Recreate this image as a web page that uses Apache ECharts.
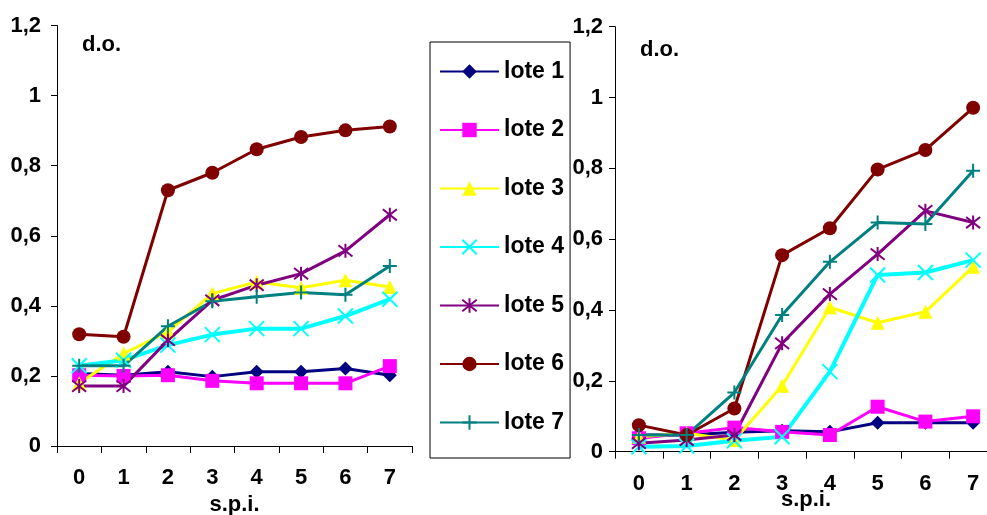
<!DOCTYPE html>
<html>
<head>
<meta charset="utf-8">
<script src="https://cdn.jsdelivr.net/npm/echarts@6/dist/echarts.min.js"></script>
<style>
html,body{margin:0;padding:0;background:#fff;}
#chart{width:987px;height:515px;}
</style>
</head>
<body>
<div id="chart"></div>
<script>
const categories = ['0','1','2','3','4','5','6','7'];
const seriesNames = ['lote 1','lote 2','lote 3','lote 4','lote 5','lote 6','lote 7'];
const yTicks = [0, 0.2, 0.4, 0.6, 0.8, 1, 1.2];

const leftLote1 = [0.207, 0.202, 0.212, 0.198, 0.212, 0.212, 0.221, 0.202];
const leftLote2 = [0.202, 0.200, 0.202, 0.186, 0.179, 0.179, 0.179, 0.228];
const leftLote3 = [0.179, 0.264, 0.326, 0.435, 0.468, 0.452, 0.473, 0.454];
const leftLote4 = [0.229, 0.245, 0.288, 0.318, 0.335, 0.335, 0.371, 0.419];
const leftLote5 = [0.171, 0.171, 0.302, 0.416, 0.459, 0.492, 0.557, 0.660];
const leftLote6 = [0.319, 0.312, 0.730, 0.780, 0.847, 0.882, 0.901, 0.912];
const leftLote7 = [0.229, 0.229, 0.342, 0.413, 0.426, 0.438, 0.432, 0.514];

const rightLote1 = [0.047, 0.047, 0.055, 0.059, 0.056, 0.082, 0.082, 0.082];
const rightLote2 = [0.038, 0.052, 0.068, 0.056, 0.047, 0.127, 0.085, 0.100];
const rightLote3 = [0.042, 0.052, 0.033, 0.186, 0.408, 0.364, 0.395, 0.522];
const rightLote4 = [0.014, 0.016, 0.031, 0.042, 0.226, 0.499, 0.506, 0.541];
const rightLote5 = [0.024, 0.033, 0.047, 0.306, 0.445, 0.558, 0.680, 0.647];
const rightLote6 = [0.075, 0.047, 0.122, 0.555, 0.631, 0.797, 0.852, 0.971];
const rightLote7 = [0.047, 0.047, 0.167, 0.386, 0.536, 0.647, 0.643, 0.793];

const leftData = [leftLote1, leftLote2, leftLote3, leftLote4, leftLote5, leftLote6, leftLote7];
const rightData = [rightLote1, rightLote2, rightLote3, rightLote4, rightLote5, rightLote6, rightLote7];

const colors = ['#000080','#FF00FF','#FFFF00','#00FFFF','#800080','#800000','#008080'];
const symbols = ['diamond','rect','triangle',
  'path://M0,0L10,10M10,0L0,10',
  'path://M0,1L10,9M10,1L0,9M5,0L5,10',
  'circle',
  'path://M5,0L5,10M0,5L10,5'];
const symbolSizes = [14, 14, 14, 15, 14, 14, 14];
const lineWidths = [3, 3, 3, 4, 3, 3, 3];
const strokeSymbol = [false,false,false,true,true,false,true];

const FONT = '"Liberation Sans", Arial, sans-serif';

function fmt(v){ return String(+(+v).toFixed(1)).replace('.', ','); }

function makeSeries(dataArr, idx){
  return dataArr.map((d, i) => ({
    name: seriesNames[i],
    type: 'line',
    xAxisIndex: idx,
    yAxisIndex: idx,
    data: d,
    symbol: symbols[i],
    symbolSize: symbolSizes[i],
    showAllSymbol: true,
    lineStyle: {color: colors[i], width: lineWidths[i]},
    itemStyle: strokeSymbol[i]
      ? {color: colors[i], borderColor: colors[i], borderWidth: 2}
      : {color: colors[i], borderWidth: 0},
    emphasis: {disabled: true},
    animation: false
  }));
}

function xAxis(gridIndex, nameGap){
  return {
    type: 'category', gridIndex, data: categories, boundaryGap: true,
    name: 's.p.i.', nameLocation: 'middle', nameGap, nameMoveOverlap: false,
    nameTextStyle: {fontFamily: FONT, fontWeight: 'bold', fontSize: 22, color: '#000'},
    axisLine: {show: true, lineStyle: {color: '#000', width: 1}},
    axisTick: {show: true, inside: false, length: 7, alignWithLabel: false, lineStyle: {color: '#000'}},
    axisLabel: {fontFamily: FONT, fontWeight: 'bold', fontSize: 22, color: '#000', margin: 21},
    splitLine: {show: false}
  };
}
function yAxis(gridIndex, margin){
  return {
    type: 'value', gridIndex, min: 0, max: 1.2, interval: 0.2,
    axisLine: {show: true, lineStyle: {color: '#000', width: 1}},
    axisTick: {show: true, inside: false, length: 6, lineStyle: {color: '#000'}},
    axisLabel: {fontFamily: FONT, fontWeight: 'bold', fontSize: 22, color: '#000', margin, formatter: fmt},
    splitLine: {show: false}
  };
}

const chart = echarts.init(document.getElementById('chart'), null, {renderer: 'canvas'});
chart.setOption({
  backgroundColor: '#fff',
  animation: false,
  title: [
    {text: 'd.o.', left: 82, top: 34, textStyle: {fontFamily: FONT, fontWeight: 'bold', fontSize: 22, color: '#000'}, padding: 0},
    {text: 'd.o.', left: 640, top: 39, textStyle: {fontFamily: FONT, fontWeight: 'bold', fontSize: 22, color: '#000'}, padding: 0}
  ],
  legend: {
    orient: 'vertical', left: 430, top: 42,
    itemWidth: 59, itemHeight: 18, itemGap: 35.5,
    padding: [18, 6, 24, 9],
    borderColor: '#000', borderWidth: 1,
    textStyle: {fontFamily: FONT, fontWeight: 'bold', fontSize: 23, color: '#000', padding: [0,0,0,0]},
    data: seriesNames,
    selectedMode: false
  },
  grid: [
    {left: 57, top: 25.6, width: 355, height: 420.4, containLabel: false, outerBoundsMode: 'none'},
    {left: 615, top: 26.7, width: 382, height: 425, containLabel: false, outerBoundsMode: 'none'}
  ],
  xAxis: [xAxis(0, 48), xAxis(1, 37)],
  yAxis: [yAxis(0, 16), yAxis(1, 12)],
  series: makeSeries(leftData, 0).concat(makeSeries(rightData, 1))
});
</script>
</body>
</html>
